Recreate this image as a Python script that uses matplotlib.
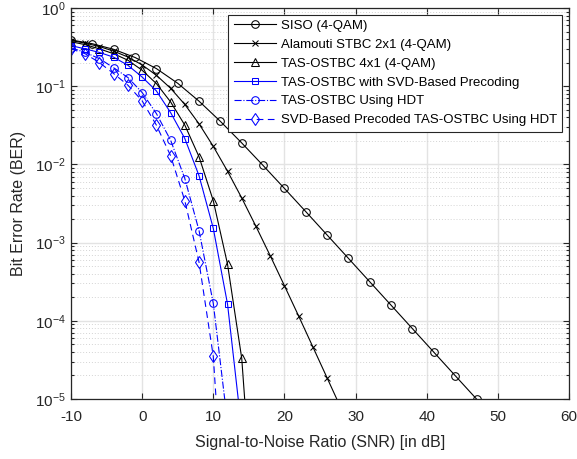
import matplotlib
matplotlib.use("Agg")
import matplotlib.pyplot as plt
import numpy as np
from matplotlib.ticker import LogLocator

plt.rcParams['font.family'] = ['Liberation Sans', 'DejaVu Sans']

# ---- data ----
snr_siso = [-10, -7, -4, -1, 2, 5, 8, 11, 14, 17, 20, 23, 26, 29, 32, 35, 38, 41, 44, 47]
ber_siso = [0.391, 0.349, 0.296, 0.233, 0.168, 0.109, 0.0643, 0.0355, 0.0188, 0.00969,
            0.00493, 0.00249, 0.00125, 6.28e-4, 3.15e-4, 1.58e-4, 7.92e-5, 3.97e-5, 1.99e-5, 1.0e-5]

snr_ala = [-10, -8, -6, -4, -2, 0, 2, 4, 6, 8, 10, 12, 14, 16, 18, 20, 22, 24, 26, 28]
ber_ala = [0.384, 0.355, 0.321, 0.281, 0.236, 0.187, 0.138, 0.0941, 0.0584, 0.0330,
           0.0170, 0.00819, 0.00372, 0.00161, 6.80e-4, 2.81e-4, 1.15e-4, 4.63e-5, 1.86e-5, 7.46e-6]

snr_tas = [-10, -8, -6, -4, -2, 0, 2, 4, 6, 8, 10, 12, 14, 16]
ber_tas = [0.37, 0.34, 0.30, 0.26, 0.215, 0.16, 0.108, 0.063, 0.0318, 0.0125, 0.00343, 5.3e-4, 3.3e-5, 1e-7]

snr_svd = [-10, -8, -6, -4, -2, 0, 2, 4, 6, 8, 10, 12, 14]
ber_svd = [0.33, 0.30, 0.27, 0.235, 0.185, 0.131, 0.087, 0.046, 0.0214, 0.00715, 0.00152, 1.64e-4, 4e-6]

snr_hdt = [-10, -8, -6, -4, -2, 0, 2, 4, 6, 8, 10, 12]
ber_hdt = [0.31, 0.27, 0.225, 0.172, 0.129, 0.083, 0.0447, 0.0204, 0.0066, 0.00142, 1.67e-4, 5e-6]

snr_svdhdt = [-10, -8, -6, -4, -2, 0, 2, 4, 6, 8, 10, 12]
ber_svdhdt = [0.30, 0.26, 0.20, 0.145, 0.103, 0.065, 0.0318, 0.0129, 0.00343, 5.6e-4, 3.5e-5, 6e-8]

labels = ['SISO (4-QAM)', 'Alamouti STBC 2x1 (4-QAM)', 'TAS-OSTBC 4x1 (4-QAM)',
          'TAS-OSTBC with SVD-Based Precoding', 'TAS-OSTBC Using HDT',
          'SVD-Based Precoded TAS-OSTBC Using HDT']
xticks = [-10, 0, 10, 20, 30, 40, 50, 60]

fig = plt.figure(figsize=(5.77, 4.59), dpi=100)
ax = fig.add_axes([71/577, 1 - 399/459, 498/577, 391/459])

lw = 0.8
mew = 0.75
ax.plot(snr_siso, ber_siso, '-', color='black', marker='o', mfc='none', ms=5.5, lw=lw, mew=mew, label=labels[0])
ax.plot(snr_ala, ber_ala, '-', color='black', marker='x', ms=4.5, lw=lw, mew=mew, label=labels[1])
ax.plot(snr_tas, ber_tas, '-', color='black', marker='^', mfc='none', ms=5.5, lw=lw, mew=mew, label=labels[2])
ax.plot(snr_svd, ber_svd, '-', color='blue', marker='s', mfc='none', ms=4.5, lw=lw, mew=mew, label=labels[3])
ax.plot(snr_hdt, ber_hdt, '-.', color='blue', marker='o', mfc='none', ms=5.5, lw=lw, mew=mew, label=labels[4])
ax.plot(snr_svdhdt, ber_svdhdt, '--', color='blue', marker='d', mfc='none', ms=6, lw=lw, mew=mew,
        dashes=(6, 4), label=labels[5])

ax.set_yscale('log')
ax.set_xlim(-10, 60)
ax.set_ylim(1e-5, 1)
ax.set_xticks(xticks)
ax.set_xticklabels([str(t) for t in xticks])
ax.yaxis.set_major_locator(LogLocator(base=10, numticks=10))
ax.yaxis.set_minor_locator(LogLocator(base=10, subs=np.arange(2, 10), numticks=10))

ax.grid(True, which='major', color='#e3e3e3', linewidth=1.0, linestyle='-')
ax.grid(True, which='minor', axis='y', color='#d4d4d4', linewidth=0.7, linestyle=(0, (1, 2)))
ax.set_axisbelow(True)

ax.tick_params(which='both', direction='in', top=True, right=True, labelsize=11, width=0.8,
               colors='#262626')
ax.tick_params(axis='x', which='major', pad=8)
ax.tick_params(axis='y', which='major', pad=4)
ax.tick_params(which='major', length=4)
ax.tick_params(which='minor', length=2)
for s in ax.spines.values():
    s.set_linewidth(0.9)
    s.set_color('#262626')

ax.set_xlabel('Signal-to-Noise Ratio (SNR) [in dB]', fontsize=11.5, color='#262626', labelpad=8)
ax.set_ylabel('Bit Error Rate (BER)', fontsize=11.5, color='#262626', labelpad=6)

leg = ax.legend(loc='upper right', fontsize=9.5, frameon=True, fancybox=False, edgecolor='#262626',
                framealpha=1, handlelength=3.2, borderaxespad=0.5, labelspacing=0.5,
                handletextpad=0.4, borderpad=0.4)
leg.get_frame().set_linewidth(0.8)

fig.savefig('out.png', dpi=100)
